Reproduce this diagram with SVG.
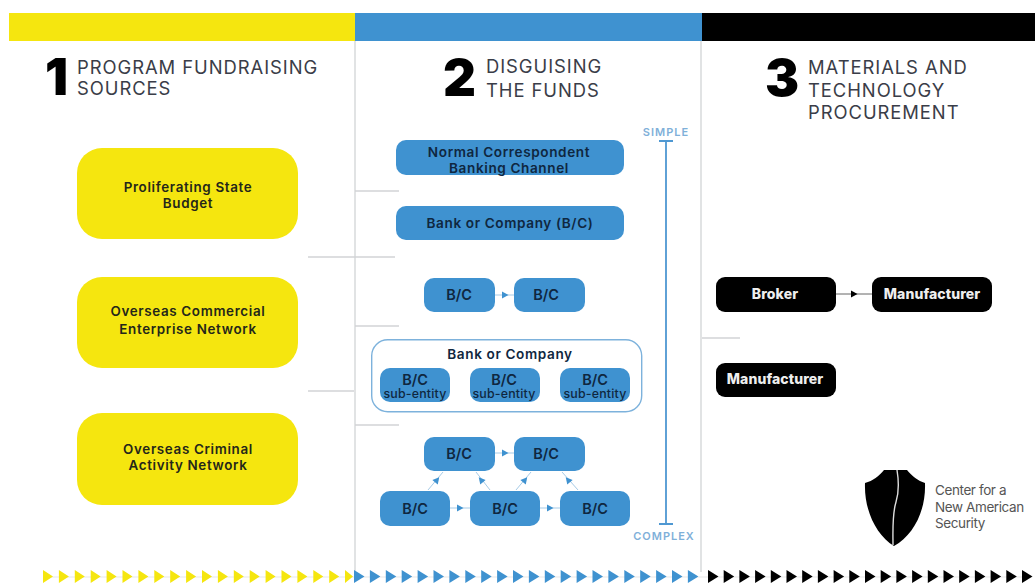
<svg xmlns="http://www.w3.org/2000/svg" width="1035" height="585" viewBox="0 0 1035 585">
<style>
text{font-family:Inter,"Liberation Sans",sans-serif}
.y{fill:#f5e60f}.b{fill:#3f92d0}.k{fill:#000}
.h{font-size:18.4px;fill:#3a3d48;letter-spacing:.95px}
.n{font-size:51px;font-weight:900;fill:#000}
.t{font-size:13.4px;font-weight:600;fill:#24261a;text-anchor:middle;letter-spacing:.65px}
.tb{font-size:13.6px;font-weight:600;fill:#0f2740;text-anchor:middle;letter-spacing:.6px}
.bc{font-size:14.5px;font-weight:600;fill:#0f2740;text-anchor:middle}
.s{font-size:12.4px;font-weight:500;fill:#0f2740;text-anchor:middle;letter-spacing:.2px}
.w{font-size:14px;font-weight:800;fill:#eeeeee;text-anchor:middle;letter-spacing:.1px}
.r{font-size:11px;font-weight:600;fill:#7fb0d9;text-anchor:middle;letter-spacing:1px}
.g{stroke:#d2d4d6;stroke-width:1.3;fill:none}
.c{stroke:#a6cbe7;stroke-width:1;fill:none}
.l{font-size:13.5px;fill:#555;letter-spacing:-.4px}
</style>
<defs>
<path id="ah" d="M-3-3.500L3.500 0L-3 3.500Z"/>
<path id="tri" d="M0-6.500L10.500 0L0 6.500Z"/>
</defs>
<rect width="1035" height="585" fill="#fff"/>
<g id="bars">
<rect class="y" x="9" y="13" width="346" height="28"/>
<rect class="b" x="355" y="13" width="347" height="28"/>
<rect class="k" x="702" y="13" width="333" height="28"/>
</g>
<g id="connectors">
<path class="g" d="M355 41V572M701 41V572M355 191H399M308 257H395M355 326H399M308 391H354M355 425H399M702 338H740"/>
<path class="c" d="M495 295H514M450 384H470M540 384H560M495 453H514M450 508H470M540 508H560M428 490L443 472M490 490L476 472M516 490L531 472M578 490L562 472"/>
<g class="b">
<use href="#ah" x="505" y="295"/>
<use href="#ah" x="460" y="384"/>
<use href="#ah" x="550" y="384"/>
<use href="#ah" x="505" y="453"/>
<use href="#ah" x="460" y="508"/>
<use href="#ah" x="550" y="508"/>
<use href="#ah" transform="translate(437 480) rotate(-50)"/>
<use href="#ah" transform="translate(481 480) rotate(-130)"/>
<use href="#ah" transform="translate(525 480) rotate(-50)"/>
<use href="#ah" transform="translate(568 480) rotate(-130)"/>
</g>
<path d="M836 294H872" stroke="#666" fill="none"/>
<use href="#ah" x="854" y="294"/>
<path d="M666 141V524M659 141H673M659 524H673" stroke="#4f98d2" stroke-width="1.8" fill="none"/>
</g>
<g id="titles">
<text class="n" x="45" y="95">1</text>
<text class="h" x="77" y="74">PROGRAM FUNDRAISING</text>
<text class="h" x="77" y="95">SOURCES</text>
<text class="n" x="443" y="96">2</text>
<text class="h" x="486" y="73">DISGUISING</text>
<text class="h" x="486" y="97">THE FUNDS</text>
<text class="n" x="765" y="96">3</text>
<text class="h" x="808" y="74">MATERIALS AND</text>
<text class="h" x="808" y="97">TECHNOLOGY</text>
<text class="h" x="808" y="119">PROCUREMENT</text>
</g>
<g id="n-budget"><rect class="y" x="77" y="148" width="221" height="91" rx="25"/><text class="t" x="188" y="192">Proliferating State</text><text class="t" x="188" y="208">Budget</text></g>
<g id="n-commercial"><rect class="y" x="77" y="277" width="221" height="91" rx="25"/><text class="t" x="188" y="316">Overseas Commercial</text><text class="t" x="188" y="334">Enterprise Network</text></g>
<g id="n-criminal"><rect class="y" x="77" y="413" width="221" height="92" rx="25"/><text class="t" x="188" y="454">Overseas Criminal</text><text class="t" x="188" y="470">Activity Network</text></g>
<g id="n-normal"><rect class="b" x="396" y="140" width="228" height="35" rx="10"/><text class="tb" x="509" y="157">Normal Correspondent</text><text class="tb" x="509" y="173">Banking Channel</text></g>
<g id="n-bank"><rect class="b" x="396" y="206" width="228" height="34" rx="10"/><text class="tb" x="510" y="228">Bank or Company (B/C)</text></g>
<g id="n-bc1"><rect class="b" x="424" y="278" width="71" height="34" rx="10"/><text class="bc" x="459" y="300">B/C</text></g>
<g id="n-bc2"><rect class="b" x="514" y="278" width="71" height="34" rx="10"/><text class="bc" x="546" y="300">B/C</text></g>
<g id="n-container"><rect x="371.700" y="339.700" width="270" height="72" rx="16" fill="#fff" stroke="#7db2dc" stroke-width="1.400"/><text class="tb" x="510" y="359">Bank or Company</text></g>
<g id="n-sub1"><rect class="b" x="380" y="368" width="70" height="34" rx="10"/><text class="bc" x="415" y="385">B/C</text><text class="s" x="415" y="398">sub-entity</text></g>
<g id="n-sub2"><rect class="b" x="470" y="368" width="70" height="34" rx="10"/><text class="bc" x="504" y="385">B/C</text><text class="s" x="504" y="398">sub-entity</text></g>
<g id="n-sub3"><rect class="b" x="560" y="368" width="70" height="34" rx="10"/><text class="bc" x="595" y="385">B/C</text><text class="s" x="595" y="398">sub-entity</text></g>
<g id="n-bc3"><rect class="b" x="424" y="437" width="71" height="34" rx="10"/><text class="bc" x="459" y="459">B/C</text></g>
<g id="n-bc4"><rect class="b" x="514" y="437" width="71" height="34" rx="10"/><text class="bc" x="546" y="459">B/C</text></g>
<g id="n-bc5"><rect class="b" x="380" y="491" width="70" height="35" rx="10"/><text class="bc" x="415" y="514">B/C</text></g>
<g id="n-bc6"><rect class="b" x="470" y="491" width="70" height="35" rx="10"/><text class="bc" x="505" y="514">B/C</text></g>
<g id="n-bc7"><rect class="b" x="560" y="491" width="70" height="35" rx="10"/><text class="bc" x="595" y="514">B/C</text></g>
<g id="scale"><text class="r" x="666" y="136">SIMPLE</text><text class="r" x="664" y="540">COMPLEX</text></g>
<g id="n-broker"><rect class="k" x="716" y="277" width="120" height="35" rx="9"/><text class="w" x="775" y="299">Broker</text></g>
<g id="n-manu1"><rect class="k" x="872" y="277" width="120" height="35" rx="9"/><text class="w" x="932" y="299">Manufacturer</text></g>
<g id="n-manu2"><rect class="k" x="716" y="363" width="120" height="34" rx="9"/><text class="w" x="775" y="384">Manufacturer</text></g>
<g id="logo">
<path class="k" d="M865 483C873 481 879 476 884 470H907C912 476 918 481 925 483C926 510 914 535 894 546C876 535 864 510 865 483Z"/>
<path d="M897 470C899 482 899 492 896 502C892 515 893 532 893 545" stroke="#ddd" stroke-width="1.400" fill="none"/>
<text class="l" x="935" y="495">Center for a</text><text class="l" x="935" y="512">New American</text><text class="l" x="935" y="528">Security</text>
</g>
<g id="chevrons">
<path d="M43 577H1030" stroke="#ddd" stroke-width=".7"/>
<path class="y" d="M43 570L53 576.500L43 583ZM58.900 570L68.900 576.500L58.900 583ZM74.800 570L84.800 576.500L74.800 583ZM90.700 570L100.700 576.500L90.700 583ZM106.600 570L116.600 576.500L106.600 583ZM122.500 570L132.500 576.500L122.500 583ZM138.400 570L148.400 576.500L138.400 583ZM154.300 570L164.300 576.500L154.300 583ZM170.200 570L180.200 576.500L170.200 583ZM186.100 570L196.100 576.500L186.100 583ZM202 570L212 576.500L202 583ZM217.900 570L227.900 576.500L217.900 583ZM233.800 570L243.800 576.500L233.800 583ZM249.700 570L259.700 576.500L249.700 583ZM265.600 570L275.600 576.500L265.600 583ZM281.500 570L291.500 576.500L281.500 583ZM297.400 570L307.400 576.500L297.400 583ZM313.300 570L323.300 576.500L313.300 583ZM329.200 570L339.200 576.500L329.200 583ZM345 570L353 576.500L345 583Z"/>
<g class="b">
<use href="#tri" x="354" y="576.500"/><use href="#tri" x="369.900" y="576.500"/><use href="#tri" x="385.800" y="576.500"/><use href="#tri" x="401.700" y="576.500"/><use href="#tri" x="417.600" y="576.500"/><use href="#tri" x="433.500" y="576.500"/><use href="#tri" x="449.400" y="576.500"/><use href="#tri" x="465.300" y="576.500"/><use href="#tri" x="481.200" y="576.500"/><use href="#tri" x="497.100" y="576.500"/><use href="#tri" x="513" y="576.500"/><use href="#tri" x="528.900" y="576.500"/><use href="#tri" x="544.800" y="576.500"/><use href="#tri" x="560.700" y="576.500"/><use href="#tri" x="576.600" y="576.500"/><use href="#tri" x="592.500" y="576.500"/><use href="#tri" x="608.400" y="576.500"/><use href="#tri" x="624.300" y="576.500"/><use href="#tri" x="640.200" y="576.500"/><use href="#tri" x="656.100" y="576.500"/><use href="#tri" x="672" y="576.500"/><use href="#tri" x="687.900" y="576.500"/>
</g>
<g class="k">
<use href="#tri" x="708" y="576.500"/><use href="#tri" x="723.700" y="576.500"/><use href="#tri" x="739.400" y="576.500"/><use href="#tri" x="755.100" y="576.500"/><use href="#tri" x="770.800" y="576.500"/><use href="#tri" x="786.500" y="576.500"/><use href="#tri" x="802.200" y="576.500"/><use href="#tri" x="817.900" y="576.500"/><use href="#tri" x="833.600" y="576.500"/><use href="#tri" x="849.300" y="576.500"/><use href="#tri" x="865" y="576.500"/><use href="#tri" x="880.700" y="576.500"/><use href="#tri" x="896.400" y="576.500"/><use href="#tri" x="912.100" y="576.500"/><use href="#tri" x="927.800" y="576.500"/><use href="#tri" x="943.500" y="576.500"/><use href="#tri" x="959.200" y="576.500"/><use href="#tri" x="974.900" y="576.500"/><use href="#tri" x="990.600" y="576.500"/><use href="#tri" x="1006.300" y="576.500"/><use href="#tri" x="1022" y="576.500"/>
</g>
</g>
</svg>
